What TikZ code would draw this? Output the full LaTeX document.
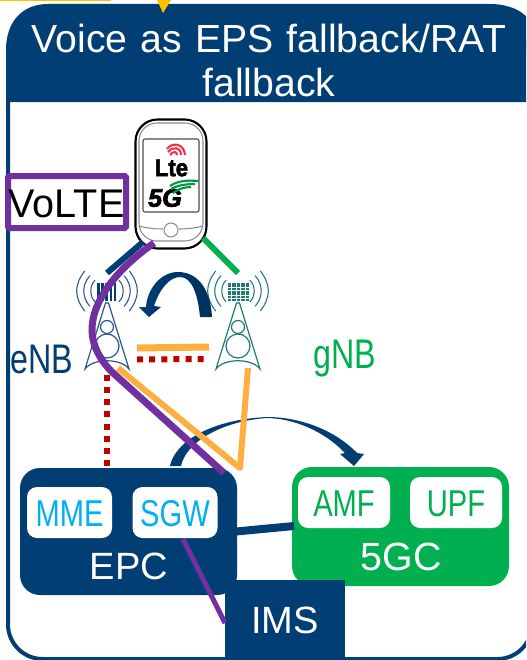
\documentclass[tikz,border=0pt]{standalone}
\usepackage{fontspec}
\setmainfont{Liberation Sans}
\newfontfamily\heavyf[FakeBold=2.5]{Liberation Sans}
\definecolor{navy}{HTML}{003E74}
\definecolor{navyd}{HTML}{00305E}
\definecolor{gr}{HTML}{00B050}
\definecolor{sky}{HTML}{00B0F0}
\definecolor{org}{HTML}{FFAF3F}
\definecolor{rd}{HTML}{C00000}
\definecolor{pur}{HTML}{7030A0}
\definecolor{yel}{HTML}{FFC000}
\definecolor{teal}{HTML}{1F7A70}
\definecolor{twr}{HTML}{2A5588}
\newcommand{\fs}[1]{\fontsize{#1}{#1}\selectfont}
\newcommand{\cond}[2]{\scalebox{#1}[1]{#2}}
\newcommand{\mytower}[2]{%
 \begin{scope}[shift={(#1,0)},draw=#2,line width=0.9pt]
  \draw (-1.5,303) -- (-22,369) .. controls (-14,358) and (14,358) .. (22,369) -- (1.5,303) -- cycle;
  \draw[line width=0.9pt,fill=white] (0,327) circle[radius=6.5];
  \draw[line width=0.9pt,fill=white] (0,346) circle[radius=12];
  \foreach \r in {30,23,16}{
   \draw[line width=0.8pt] (-\r*0.743,291-\r*0.669) .. controls (-\r*1.1,285) and (-\r*1.1,297) .. (-\r*0.743,291+\r*0.669);
   \draw[line width=0.8pt] (\r*0.743,291-\r*0.669) .. controls (\r*1.1,285) and (\r*1.1,297) .. (\r*0.743,291+\r*0.669);
  }
 \end{scope}}
\tikzset{
 x=0.75pt,y=-0.75pt,
 box/.style={rounded corners=15pt,inner sep=0pt,fill=#1},
 inbox/.style={rounded corners=7.5pt,inner sep=0pt,fill=white,minimum height=38.25pt},
 lbl/.style={inner sep=0pt,font=\fs{28}},
 big/.style={inner sep=0pt,text=white,font=\fs{29}},
 cnx/.style={line width=#1*0.75pt},
 dots/.style={rd,line width=4.5pt,dash pattern=on 4.5pt off 4.6pt},
}
\begin{document}
\begin{tikzpicture}
\clip (0,0) rectangle (526,660);
\fill[white] (0,0) rectangle (526,660);
% frame and title
\draw[navy,line width=3pt,rounded corners=26pt] (8,30) rectangle (532,659);
\fill[navy] (6,102) -- (6,50) .. controls (6,22) and (22,4) .. (48,4) -- (490,4) .. controls (510,4) and (526,12) .. (532,24) -- (532,102) -- cycle;
\fill[yel] (157,0) -- (171,0) -- (163,13) -- cycle;
\fill[yel] (0,0) rectangle (111,1.2);
\node[big,align=center,font=\fontsize{29.4}{32.3}\selectfont,text width=390pt] (title) at (269,60.5) {Voice as EPS fallback/RAT\\fallback};
% towers
\mytower{107}{twr}
\mytower{238}{teal}
\foreach \x in {97,101.2,105.4,109.6,113.8}{\fill[navy] (\x,283) rectangle ++(2.6,18);}
\foreach \x in {227.5,232,236.5,241,245.5}{\foreach \y in {282.5,285.2,287.9,290.6,293.3,296,298.7}{\fill[teal] (\x,\y) rectangle ++(3.8,2);}}
% coordinates
\coordinate (enbant) at (107,273);
\coordinate (gnbant) at (238,273);
\coordinate (phoneL) at (143,242);
\coordinate (phoneR) at (203,238);
\coordinate (pstart) at (154,243);
\coordinate (pmid) at (92,330);
\coordinate (pbend) at (112,372);
\coordinate (epcin) at (224,473);
\coordinate (oA) at (118,368);
\coordinate (oB) at (240,468);
\coordinate (oC) at (248,368);
\coordinate (xA) at (137,348);
\coordinate (xB) at (209,347);
\coordinate (dA) at (137,359.5);
\coordinate (dB) at (206,359);
\coordinate (dC) at (106.7,375);
\coordinate (dD) at (106.7,466);
\coordinate (linkA) at (236,531.5);
\coordinate (linkB) at (294,526);
\coordinate (sgwb) at (183,539);
\coordinate (imsl) at (225,623);
% boxes
\node[box=navy,minimum width=162.75pt,minimum height=95.25pt] (epc) at (128.5,531.5) {};
\node[box=gr,minimum width=162.75pt,minimum height=89.25pt] (fgc) at (400.5,526.5) {};
\draw[navy,cnx=8] (linkA) -- (linkB);
\node[inbox,minimum width=63.75pt] (mme) at (69.5,512.5) {};
\node[lbl,text=sky] at (69.5,513.5) {\cond{0.78}{MME}};
\node[inbox,minimum width=63.75pt] (sgw) at (175,512.5) {};
\node[lbl,text=sky] at (175,513.5) {\cond{0.78}{SGW}};
\node[big,font=\fs{28.5}] (epct) at (129,566) {EPC};
\node[inbox,minimum width=69pt] (amf) at (344,502.5) {};
\node[lbl,text=gr] at (344,503.5) {\cond{0.78}{AMF}};
\node[inbox,minimum width=69pt] (upf) at (456,502.5) {};
\node[lbl,text=gr] at (456,503.5) {\cond{0.78}{UPF}};
\node[big,font=\fs{29.5}] (fgct) at (401,557) {5GC};
\node[fill=navy,minimum width=90pt,minimum height=60pt,inner sep=0pt,text=white,font=\fs{28.5}] (ims) at (285,620) {IMS};
% curved arrows
\shade[left color=navy,right color=navyd] (212,317) .. controls (210,285) and (195,272) .. (178,272) .. controls (160,272) and (147,290) .. (146,307) -- (139,307) -- (149,317) -- (161,307) -- (154,306) .. controls (160,288) and (170,277) .. (180,277) .. controls (192,277) and (198,295) .. (200,317) -- cycle;
\fill[navy] (170,466) .. controls (174,445) and (205,420) .. (267,417) .. controls (300,417) and (335,430) .. (357,453) -- (364,454) -- (354,466) -- (340,454) -- (345,453) .. controls (325,432) and (295,418.5) .. (267,418) .. controls (222,421) and (186,442) .. (181,466) -- cycle;
% phone
\draw[black,fill=white,line width=1.6pt,rounded corners=16.5pt] (135.5,119.5) rectangle (206.5,248.5);
\draw[black!45,line width=0.8pt,rounded corners=13.5pt] (139,123) rectangle (203,241);
\draw[black!70,line width=0.8pt,rounded corners=1.5pt] (143,139) rectangle (199,212);
\draw[black!45,line width=0.8pt] (139,226) .. controls (146,228) and (155,229) .. (163,229);
\draw[black!45,line width=0.8pt] (179,229) .. controls (187,229) and (196,228) .. (203,226);
\draw[black!45,line width=0.8pt] (171,230) circle[radius=7];
\node[inner sep=0pt,font=\fs{18}\heavyf\bfseries] (lte) at (171.5,168) {\cond{0.92}{Lte}};
\node[inner sep=0pt,font=\fs{19}\heavyf\bfseries\itshape] (fg) at (165,198) {5G};
\begin{scope}[line width=1.6pt,draw={rgb,255:red,232;green,54;blue,79}]
\draw (167,149) .. controls (172,142) and (184,143) .. (185,155);
\draw (168,152) .. controls (173,146) and (181,147) .. (181,155);
\draw (170,155) .. controls (173,151) and (177,151) .. (177,155);
\end{scope}
\begin{scope}[line width=1.6pt,draw=gr!85!black]
\draw (170,186) .. controls (177,181) and (187,180) .. (198,181);
\draw (171,189) .. controls (178,185) and (187,184) .. (195,184);
\draw (173,193) .. controls (178,189) and (185,187) .. (191,187);
\end{scope}
% links
\draw[dots] (dA) -- (dB);
\draw[dots] (dC) -- (dD);
\draw[org,cnx=7] (xA) -- (xB);
\draw[org,cnx=6,line join=round] (oA) -- (oB) -- (oC);
\draw[navy,cnx=6] (phoneL) -- (enbant);
\draw[gr,cnx=6] (phoneR) -- (gnbant);
\draw[pur,cnx=7] (pstart) .. controls (118,268) and (92,300) .. (pmid) .. controls (92,345) and (100,360) .. (pbend) -- (epcin);
\draw[pur,cnx=5] (sgwb) -- (imsl);
% VoLTE
\node[draw=pur,line width=4.5pt,rounded corners=1pt,minimum width=88.5pt,minimum height=39pt,inner sep=0pt] (volte) at (67,202) {};
\node[inner sep=0pt,text=black,font=\fs{30}] (voltet) at (66.5,203.5) {\cond{0.99}{VoLTE}};
% labels
\node[inner sep=0pt,text=navy,font=\fs{31}] (enb) at (41.5,359) {\cond{0.78}{eNB}};
\node[inner sep=0pt,text=gr,font=\fs{31}] (gnb) at (345,359) {\cond{0.78}{gNB}};
\end{tikzpicture}
\end{document}
